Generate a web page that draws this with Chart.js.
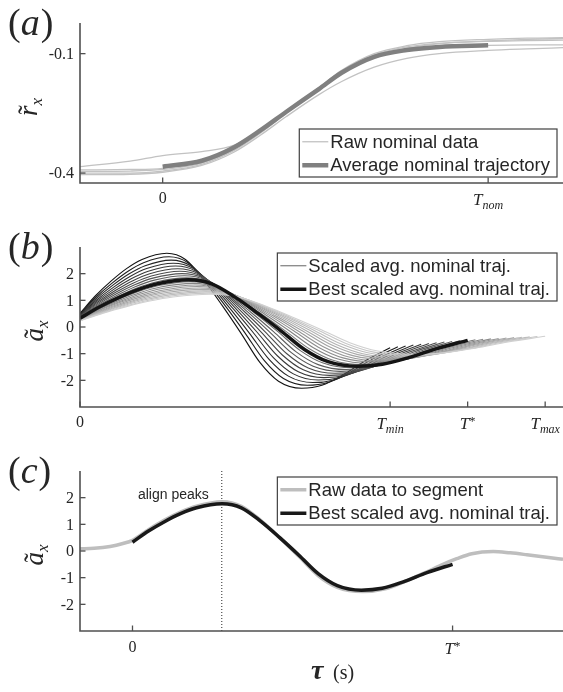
<!DOCTYPE html>
<html>
<head>
<meta charset="utf-8">
<script src="https://cdn.jsdelivr.net/npm/chart.js@4.4.1/dist/chart.umd.min.js"></script>
<style>
    html, body { margin: 0; padding: 0; background: #fff; }
    #figura { position: relative; width: 563px; height: 692px; overflow: hidden; }
    #figura canvas { position: absolute; left: 0; top: 0; }
</style>
</head>
<body>
<div id="figura">
    <canvas id="graficoPosicao" width="563" height="692"></canvas>
    <canvas id="graficoEscalas" width="563" height="692"></canvas>
    <canvas id="graficoSegmento" width="563" height="692"></canvas>
</div>
<script>
// (a) position: raw recordings and their average, time normalised to T_nom
const tRaw = [-0.254, -0.1, 0, 0.12, 0.22, 0.3, 0.38, 0.48, 0.55, 0.65, 0.75, 0.85, 1.0, 1.12, 1.23];
const rxRaw1 = [-0.384, -0.370, -0.356, -0.346, -0.330, -0.292, -0.244, -0.186, -0.145, -0.104, -0.086, -0.075, -0.068, -0.064, -0.062];
const rxRaw2 = [-0.392, -0.391, -0.388, -0.372, -0.338, -0.296, -0.246, -0.186, -0.142, -0.100, -0.080, -0.070, -0.064, -0.061, -0.060];
const rxRaw3 = [-0.396, -0.395, -0.391, -0.375, -0.340, -0.297, -0.247, -0.187, -0.144, -0.103, -0.083, -0.074, -0.069, -0.067, -0.066];
const rxRaw4 = [-0.400, -0.400, -0.395, -0.378, -0.343, -0.300, -0.250, -0.192, -0.150, -0.110, -0.090, -0.083, -0.079, -0.078, -0.078];
const rxRaw5 = [-0.404, -0.403, -0.398, -0.381, -0.347, -0.305, -0.258, -0.203, -0.170, -0.134, -0.112, -0.100, -0.092, -0.088, -0.085];
const tAvg = [0, 0.12, 0.22, 0.3, 0.38, 0.48, 0.55, 0.65, 0.75, 0.85, 1.0];
const rxAvg = [-0.384, -0.369, -0.335, -0.293, -0.246, -0.189, -0.148, -0.108, -0.091, -0.083, -0.079];

// (b) average nominal acceleration over one duration, and the durations tried
const tBase = [0, 0.05, 0.10, 0.15, 0.20, 0.28, 0.34, 0.40, 0.46, 0.52, 0.58, 0.64, 0.715, 0.78, 0.85, 0.92, 1.0];
const axBase = [0.33, 0.75, 1.10, 1.40, 1.62, 1.77, 1.62, 1.12, 0.50, -0.16, -0.85, -1.30, -1.47, -1.40, -1.14, -0.81, -0.50];
const durations = [0.80, 0.82, 0.84, 0.86, 0.88, 0.90, 0.92, 0.94, 0.96, 0.98, 1.00,
                   1.02, 1.04, 1.06, 1.08, 1.10, 1.12, 1.14, 1.16, 1.18, 1.20];
const bestDuration = 1.00;

// (c) raw acceleration to segment
const tSeg = [-0.164, -0.12, -0.07, -0.03, 0, 0.05, 0.10, 0.15, 0.20, 0.28, 0.34, 0.40, 0.46, 0.52,
              0.58, 0.64, 0.72, 0.79, 0.85, 0.92, 0.97, 1.013, 1.06, 1.127, 1.18, 1.232, 1.30, 1.345];
const axSeg = [0.08, 0.10, 0.17, 0.28, 0.40, 0.80, 1.16, 1.46, 1.68, 1.85, 1.68, 1.15, 0.50, -0.20,
               -0.92, -1.36, -1.52, -1.42, -1.15, -0.78, -0.50, -0.29, -0.10, -0.02, -0.07, -0.14, -0.24, -0.31];
const peakTime = 0.279;

// ticks
const ticksYPos = [-0.1, -0.4];
const ticksYAcc = [2, 1, 0, -1, -2];
const ticksXA = [0, 1];
const labelsXA = ['0', 'T_nom'];
const ticksXB = [0, 0.8, 1, 1.2];
const labelsXB = ['0', 'T_min', 'T^*', 'T_max'];
const ticksXC = [0, 1];
const labelsXC = ['0', 'T^*'];

const SERIF = '"Liberation Serif", "DejaVu Serif", serif';
const SANS = '"Liberation Sans", Arial, sans-serif';
const INK = '#262626';
const AXIS = '#505050';

function pts(xs, ys) {
    return xs.map((x, i) => ({ x: x, y: ys[i] }));
}

// same trajectory stretched to duration T (acceleration goes with 1/T^2)
function scaledTraj(T) {
    return tBase.map((t, i) => ({ x: t * T, y: axBase[i] / (T * T) }));
}

function drawTLabel(ctx, x, y, label) {
    if (label.charAt(0) !== 'T') {
        ctx.font = '16px ' + SERIF;
        ctx.textAlign = 'center';
        ctx.textBaseline = 'middle';
        ctx.fillText(label, x, y);
        return;
    }
    const small = label.slice(2);
    const isSub = label.charAt(1) === '_';
    ctx.font = 'italic 17px ' + SERIF;
    const wT = ctx.measureText('T').width;
    ctx.font = (isSub ? 'italic 12px ' : '13px ') + SERIF;
    const wS = ctx.measureText(small).width;
    const x0 = x - (wT + wS) / 2;
    ctx.textAlign = 'left';
    ctx.textBaseline = 'alphabetic';
    ctx.font = 'italic 17px ' + SERIF;
    ctx.fillText('T', x0, y + 6);
    ctx.font = (isSub ? 'italic 12px ' : '13px ') + SERIF;
    ctx.fillText(small, x0 + wT, isSub ? y + 10 : y + 2);
}

function drawYTitle(ctx, cx, cy, letter, sub) {
    ctx.save();
    ctx.translate(cx, cy);
    ctx.rotate(-Math.PI / 2);
    ctx.fillStyle = INK;
    ctx.textBaseline = 'alphabetic';
    ctx.font = 'italic 27px ' + SERIF;
    const wL = ctx.measureText(letter).width;
    ctx.font = 'italic 17px ' + SERIF;
    const wS = ctx.measureText(sub).width;
    const x0 = -(wL + wS) / 2;
    ctx.font = 'italic 27px ' + SERIF;
    ctx.textAlign = 'left';
    ctx.fillText(letter, x0, 0);
    ctx.font = '27px ' + SERIF;
    ctx.textAlign = 'center';
    ctx.fillText('\u02DC', x0 + wL / 2 + 1, 0);
    ctx.font = 'italic 17px ' + SERIF;
    ctx.textAlign = 'left';
    ctx.fillText(sub, x0 + wL, 5);
    ctx.restore();
}

function drawPanelLetter(ctx, x, y, letter) {
    ctx.fillStyle = INK;
    ctx.textAlign = 'left';
    ctx.textBaseline = 'alphabetic';
    ctx.font = '38px ' + SERIF;
    ctx.fillText('(', x, y);
    let w = ctx.measureText('(').width;
    ctx.font = 'italic 38px ' + SERIF;
    ctx.fillText(letter, x + w, y);
    w += ctx.measureText(letter).width + 1;
    ctx.font = '38px ' + SERIF;
    ctx.fillText(')', x + w, y);
}

function drawLegend(ctx, rows, right, top) {
    const rowH = 23.5;
    ctx.font = '18.5px ' + SANS;
    const textW = Math.max(...rows.map(r => ctx.measureText(r.label).width));
    const w = 4 + 25 + 3 + textW + 6;
    const h = rows.length * rowH + 1;
    const left = right - w;
    ctx.fillStyle = '#fff';
    ctx.fillRect(left, top, w, h);
    ctx.strokeStyle = '#404040';
    ctx.lineWidth = 1.2;
    ctx.strokeRect(left, top, w, h);
    rows.forEach((r, i) => {
        const y = top + 1 + rowH * (i + 0.5);
        ctx.strokeStyle = r.borderColor;
        ctx.lineWidth = r.borderWidth;
        ctx.setLineDash([]);
        ctx.beginPath();
        ctx.moveTo(left + 3, y);
        ctx.lineTo(left + 29, y);
        ctx.stroke();
        ctx.fillStyle = INK;
        ctx.textAlign = 'left';
        ctx.textBaseline = 'middle';
        ctx.fillText(r.label, left + 31, y + 1);
    });
}

// axes, inward ticks, labels and legend in the plain style of the figure
function figureDecor(spec) {
    return {
        id: 'figureDecor',
        afterDatasetsDraw(chart) {
            const ctx = chart.ctx;
            const area = chart.chartArea;
            const sx = chart.scales.x;
            const sy = chart.scales.y;
            ctx.save();
            ctx.setLineDash([]);
            ctx.strokeStyle = AXIS;
            ctx.lineWidth = 1.6;
            ctx.beginPath();
            ctx.moveTo(area.left, area.top);
            ctx.lineTo(area.left, area.bottom);
            ctx.lineTo(area.right, area.bottom);
            ctx.stroke();

            ctx.lineWidth = 1.3;
            spec.yTicks.forEach(v => {
                const y = sy.getPixelForValue(v);
                ctx.beginPath();
                ctx.moveTo(area.left, y);
                ctx.lineTo(area.left + 5.5, y);
                ctx.stroke();
            });
            spec.xTicks.forEach(v => {
                const x = sx.getPixelForValue(v);
                ctx.beginPath();
                ctx.moveTo(x, area.bottom);
                ctx.lineTo(x, area.bottom - 5.5);
                ctx.stroke();
            });

            ctx.fillStyle = INK;
            ctx.font = '16px ' + SERIF;
            ctx.textAlign = 'right';
            ctx.textBaseline = 'middle';
            spec.yTicks.forEach(v => {
                ctx.fillText(String(v), area.left - 6, sy.getPixelForValue(v) + 1);
            });
            spec.xTicks.forEach((v, i) => {
                drawTLabel(ctx, sx.getPixelForValue(v), area.bottom + spec.xLabelGap, spec.xLabels[i]);
            });

            drawYTitle(ctx, spec.yTitleX, (area.top + area.bottom) / 2 + 4, spec.yTitle[0], spec.yTitle[1]);
            drawPanelLetter(ctx, 8, area.top + 12, spec.letter);

            const rows = chart.data.datasets.filter(d => d.legendRank).sort((a, b) => a.legendRank - b.legendRank);
            drawLegend(ctx, rows, 557, spec.legendTop);

            if (spec.extra) spec.extra(ctx, chart);
            ctx.restore();
        }
    };
}

function makePanel(id, box, xRange, yRange, datasets, spec) {
    return new Chart(document.getElementById(id), {
        type: 'line',
        data: { datasets: datasets },
        options: {
            responsive: false,
            animation: false,
            devicePixelRatio: 1,
            events: [],
            layout: {
                padding: { left: box.left, top: box.top, right: 563 - box.right, bottom: 692 - box.bottom }
            },
            elements: {
                point: { radius: 0 },
                line: { cubicInterpolationMode: 'monotone', fill: false, borderCapStyle: 'butt' }
            },
            plugins: { legend: { display: false }, tooltip: { enabled: false } },
            scales: {
                x: { type: 'linear', display: false, min: xRange[0], max: xRange[1] },
                y: { type: 'linear', display: false, min: yRange[0], max: yRange[1] }
            }
        },
        plugins: [figureDecor(spec)]
    });
}

document.addEventListener('DOMContentLoaded', () => {
    // (a) position
    const rawColor = 'rgb(194, 194, 194)';
    const rawSets = [rxRaw1, rxRaw2, rxRaw3, rxRaw4, rxRaw5].map((ys, i) => ({
        label: 'Raw nominal data',
        data: pts(tRaw, ys),
        borderColor: rawColor,
        borderWidth: 1.3,
        order: 2,
        legendRank: i === 0 ? 1 : 0
    }));
    makePanel('graficoPosicao', { left: 80, top: 23, right: 563, bottom: 183 },
        [-0.254, 1.23], [-0.425, -0.023],
        [{
            label: 'Average nominal trajectory',
            data: pts(tAvg, rxAvg),
            borderColor: 'rgb(128, 128, 128)',
            borderWidth: 4.5,
            order: 0,
            legendRank: 2
        }].concat(rawSets),
        {
            letter: 'a', yTicks: ticksYPos, xTicks: ticksXA, xLabels: labelsXA,
            xLabelGap: 16, yTitle: ['r', 'x'], yTitleX: 37, legendTop: 129
        });

    // (b) family of scaled trajectories, darkest = shortest
    const family = durations.map((T, k) => {
        const g = Math.round(18 + 190 * k / (durations.length - 1));
        return {
            label: 'Scaled avg. nominal traj.',
            data: scaledTraj(T),
            borderColor: 'rgb(' + g + ', ' + g + ', ' + g + ')',
            borderWidth: 1.1,
            order: 100 - k,
            legendRank: T === bestDuration ? 1 : 0
        };
    });
    makePanel('graficoEscalas', { left: 80, top: 247, right: 563, bottom: 407 },
        [0, 1.246], [-3, 3],
        [{
            label: 'Best scaled avg. nominal traj.',
            data: scaledTraj(bestDuration),
            borderColor: 'rgb(20, 20, 20)',
            borderWidth: 3.5,
            order: 0,
            legendRank: 2
        }].concat(family),
        {
            letter: 'b', yTicks: ticksYAcc, xTicks: ticksXB, xLabels: labelsXB,
            xLabelGap: 16, yTitle: ['a', 'x'], yTitleX: 43, legendTop: 253
        });

    // (c) best match laid over the raw signal
    makePanel('graficoSegmento', { left: 80, top: 471, right: 563, bottom: 631 },
        [-0.164, 1.345], [-3, 3],
        [{
            label: 'Best scaled avg. nominal traj.',
            data: scaledTraj(bestDuration),
            borderColor: 'rgb(25, 25, 25)',
            borderWidth: 3.5,
            order: 0,
            legendRank: 2
        }, {
            label: 'Raw data to segment',
            data: pts(tSeg, axSeg),
            borderColor: 'rgb(190, 190, 190)',
            borderWidth: 3.5,
            order: 1,
            legendRank: 1
        }, {
            label: 'align peaks',
            data: [{ x: peakTime, y: -3 }, { x: peakTime, y: 3 }],
            borderColor: 'rgb(40, 40, 40)',
            borderWidth: 1,
            borderDash: [1, 2],
            cubicInterpolationMode: 'default',
            tension: 0,
            order: 3
        }],
        {
            letter: 'c', yTicks: ticksYAcc, xTicks: ticksXC, xLabels: labelsXC,
            xLabelGap: 17, yTitle: ['a', 'x'], yTitleX: 43, legendTop: 477,
            extra: (ctx, chart) => {
                const sx = chart.scales.x;
                const sy = chart.scales.y;
                ctx.fillStyle = INK;
                ctx.font = '14px ' + SANS;
                ctx.textAlign = 'right';
                ctx.textBaseline = 'middle';
                ctx.fillText('align peaks', sx.getPixelForValue(peakTime) - 13, sy.getPixelForValue(2) - 3);

                // x axis title
                ctx.textAlign = 'left';
                ctx.textBaseline = 'alphabetic';
                ctx.font = 'bold italic 28px ' + SERIF;
                ctx.fillText('\u03C4', 311, 679);
                ctx.font = '20px ' + SERIF;
                ctx.fillText('(s)', 333, 679);
            }
        });
});
</script>
</body>
</html>
